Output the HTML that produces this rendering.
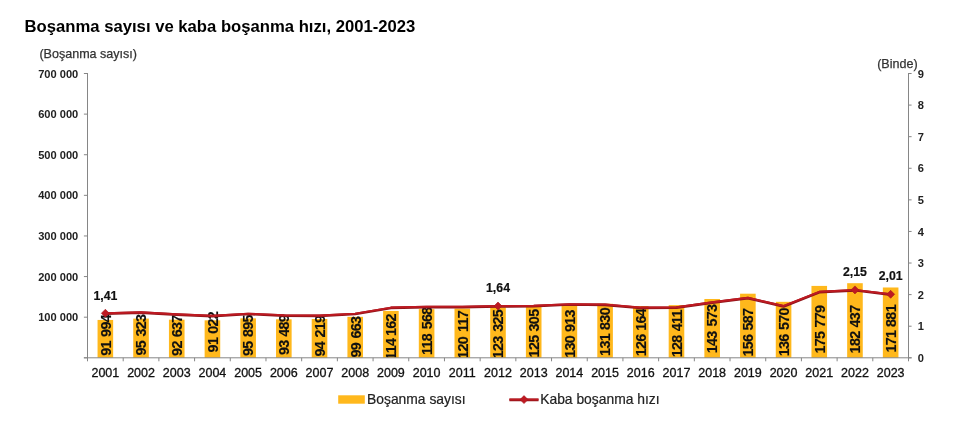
<!DOCTYPE html>
<html lang="tr"><head><meta charset="utf-8"><title>Boşanma sayısı ve kaba boşanma hızı, 2001-2023</title>
<style>html,body{margin:0;padding:0;background:#fff}body{width:957px;height:423px;overflow:hidden}svg{display:block}text{font-family:"Liberation Sans",Arial,sans-serif}</style></head><body>
<svg width="957" height="423" viewBox="0 0 957 423">
<rect width="957" height="423" fill="#fff"/>
<defs><clipPath id="plot"><rect x="87.5" y="0" width="821" height="357.3"/></clipPath></defs>
<text x="24.6" y="31.5" font-size="16.67" font-weight="bold" fill="#000">Boşanma sayısı ve kaba boşanma hızı, 2001-2023</text>
<text x="39.4" y="57.6" font-size="12.55" fill="#333" stroke="#333" stroke-width="0.25">(Boşanma sayısı)</text>
<text x="877.2" y="67.6" font-size="12.55" fill="#333" stroke="#333" stroke-width="0.25">(Binde)</text>
<g fill="#FFB81C">
<rect x="97.55" y="319.94" width="15.60" height="37.86"/>
<rect x="133.24" y="318.59" width="15.60" height="39.21"/>
<rect x="168.94" y="319.68" width="15.60" height="38.12"/>
<rect x="204.63" y="320.33" width="15.60" height="37.47"/>
<rect x="240.33" y="318.35" width="15.60" height="39.45"/>
<rect x="276.03" y="319.33" width="15.60" height="38.47"/>
<rect x="311.72" y="319.03" width="15.60" height="38.77"/>
<rect x="347.42" y="316.82" width="15.60" height="40.98"/>
<rect x="383.11" y="310.93" width="15.60" height="46.87"/>
<rect x="418.81" y="309.14" width="15.60" height="48.66"/>
<rect x="454.50" y="308.52" width="15.60" height="49.28"/>
<rect x="490.20" y="307.21" width="15.60" height="50.59"/>
<rect x="525.90" y="306.41" width="15.60" height="51.39"/>
<rect x="561.59" y="304.13" width="15.60" height="53.67"/>
<rect x="597.29" y="303.76" width="15.60" height="54.04"/>
<rect x="632.98" y="306.06" width="15.60" height="51.74"/>
<rect x="668.68" y="305.15" width="15.60" height="52.65"/>
<rect x="704.37" y="298.99" width="15.60" height="58.81"/>
<rect x="740.07" y="293.70" width="15.60" height="64.10"/>
<rect x="775.77" y="301.83" width="15.60" height="55.97"/>
<rect x="811.46" y="285.91" width="15.60" height="71.89"/>
<rect x="847.16" y="283.20" width="15.60" height="74.60"/>
<rect x="882.85" y="287.49" width="15.60" height="70.31"/>
</g>
<g font-size="14.3" font-weight="bold" fill="#111" stroke="#111" stroke-width="0.15" letter-spacing="-0.67" clip-path="url(#plot)">
<text transform="translate(110.65 355.80) rotate(-90) scale(1 1.08)" word-spacing="1.05">91 994</text>
<text transform="translate(146.34 355.60) rotate(-90) scale(1 1.08)" word-spacing="1.15">95 323</text>
<text transform="translate(182.04 355.90) rotate(-90) scale(1 1.08)" word-spacing="0.85">92 637</text>
<text transform="translate(217.73 352.40) rotate(-90) scale(1 1.08)" word-spacing="0.85">91 022</text>
<text transform="translate(253.43 356.00) rotate(-90) scale(1 1.08)" word-spacing="1.05">95 895</text>
<text transform="translate(289.13 355.10) rotate(-90) scale(1 1.08)" word-spacing="0.55">93 489</text>
<text transform="translate(324.82 356.60) rotate(-90) scale(1 1.08)" word-spacing="1.25">94 219</text>
<text transform="translate(360.52 357.50) rotate(-90) scale(1 1.08)" word-spacing="1.05">99 663</text>
<text transform="translate(396.21 359.70) rotate(-90) scale(1 1.08)" word-spacing="-0.65">114 162</text>
<text transform="translate(431.91 354.90) rotate(-90) scale(1 1.08)" word-spacing="1.25">118 568</text>
<text transform="translate(467.60 358.70) rotate(-90) scale(1 1.08)" word-spacing="1.55">120 117</text>
<text transform="translate(503.30 358.40) rotate(-90) scale(1 1.08)" word-spacing="1.45">123 325</text>
<text transform="translate(539.00 357.40) rotate(-90) scale(1 1.08)" word-spacing="0.85">125 305</text>
<text transform="translate(574.69 357.80) rotate(-90) scale(1 1.08)" word-spacing="0.65">130 913</text>
<text transform="translate(610.39 355.90) rotate(-90) scale(1 1.08)" word-spacing="0.85">131 830</text>
<text transform="translate(646.08 356.30) rotate(-90) scale(1 1.08)" word-spacing="0.35">126 164</text>
<text transform="translate(681.78 357.30) rotate(-90) scale(1 1.08)" word-spacing="0.85">128 411</text>
<text transform="translate(717.47 353.20) rotate(-90) scale(1 1.08)" word-spacing="1.45">143 573</text>
<text transform="translate(753.17 356.60) rotate(-90) scale(1 1.08)" word-spacing="0.85">156 587</text>
<text transform="translate(788.87 356.30) rotate(-90) scale(1 1.08)" word-spacing="1.05">136 570</text>
<text transform="translate(824.56 353.50) rotate(-90) scale(1 1.08)" word-spacing="0.85">175 779</text>
<text transform="translate(860.26 353.40) rotate(-90) scale(1 1.08)" word-spacing="0.85">182 437</text>
<text transform="translate(895.95 352.50) rotate(-90) scale(1 1.08)" word-spacing="0.45">171 881</text>
</g>
<g stroke="#868686" stroke-width="1" fill="none">
<path d="M87.5 73V358.3"/>
<path d="M908.5 73V358.3"/>
<path d="M83.9 357.8H911.6"/>
<path d="M83.9 73.50H87.5M83.9 114.11H87.5M83.9 154.73H87.5M83.9 195.34H87.5M83.9 235.96H87.5M83.9 276.57H87.5M83.9 317.19H87.5M83.9 357.80H87.5M908.5 73.50H911.6M908.5 105.09H911.6M908.5 136.68H911.6M908.5 168.27H911.6M908.5 199.86H911.6M908.5 231.44H911.6M908.5 263.03H911.6M908.5 294.62H911.6M908.5 326.21H911.6M908.5 357.80H911.6M87.50 357.8V361.3M123.20 357.8V361.3M158.89 357.8V361.3M194.59 357.8V361.3M230.28 357.8V361.3M265.98 357.8V361.3M301.67 357.8V361.3M337.37 357.8V361.3M373.07 357.8V361.3M408.76 357.8V361.3M444.46 357.8V361.3M480.15 357.8V361.3M515.85 357.8V361.3M551.54 357.8V361.3M587.24 357.8V361.3M622.93 357.8V361.3M658.63 357.8V361.3M694.33 357.8V361.3M730.02 357.8V361.3M765.72 357.8V361.3M801.41 357.8V361.3M837.11 357.8V361.3M872.80 357.8V361.3M908.50 357.8V361.3"/>
</g>
<g font-size="11.1" font-weight="bold" fill="#222" text-anchor="end">
<text x="78.3" y="77.65">700 000</text>
<text x="78.3" y="118.26">600 000</text>
<text x="78.3" y="158.88">500 000</text>
<text x="78.3" y="199.49">400 000</text>
<text x="78.3" y="240.11">300 000</text>
<text x="78.3" y="280.72">200 000</text>
<text x="78.3" y="321.34">100 000</text>
</g>
<g font-size="11.1" font-weight="bold" fill="#222">
<text x="917.8" y="77.65">9</text>
<text x="917.8" y="109.24">8</text>
<text x="917.8" y="140.83">7</text>
<text x="917.8" y="172.42">6</text>
<text x="917.8" y="204.01">5</text>
<text x="917.8" y="235.59">4</text>
<text x="917.8" y="267.18">3</text>
<text x="917.8" y="298.77">2</text>
<text x="917.8" y="330.36">1</text>
<text x="917.8" y="361.95">0</text>
</g>
<g font-size="12.5" fill="#111" stroke="#111" stroke-width="0.3" text-anchor="middle">
<text x="105.35" y="376.5">2001</text>
<text x="141.04" y="376.5">2002</text>
<text x="176.74" y="376.5">2003</text>
<text x="212.43" y="376.5">2004</text>
<text x="248.13" y="376.5">2005</text>
<text x="283.83" y="376.5">2006</text>
<text x="319.52" y="376.5">2007</text>
<text x="355.22" y="376.5">2008</text>
<text x="390.91" y="376.5">2009</text>
<text x="426.61" y="376.5">2010</text>
<text x="462.30" y="376.5">2011</text>
<text x="498.00" y="376.5">2012</text>
<text x="533.70" y="376.5">2013</text>
<text x="569.39" y="376.5">2014</text>
<text x="605.09" y="376.5">2015</text>
<text x="640.78" y="376.5">2016</text>
<text x="676.48" y="376.5">2017</text>
<text x="712.17" y="376.5">2018</text>
<text x="747.87" y="376.5">2019</text>
<text x="783.57" y="376.5">2020</text>
<text x="819.26" y="376.5">2021</text>
<text x="854.96" y="376.5">2022</text>
<text x="890.65" y="376.5">2023</text>
</g>
<polyline points="105.35,313.26 141.04,312.31 176.74,314.21 212.43,315.79 248.13,313.58 283.83,315.15 319.52,315.47 355.22,313.58 390.91,307.57 426.61,306.63 462.30,306.63 498.00,305.99 533.70,305.68 569.39,304.10 605.09,304.41 640.78,307.57 676.48,307.26 712.17,302.20 747.87,297.78 783.57,305.99 819.26,291.78 854.96,289.88 890.65,294.31" fill="none" stroke="#8E1519" stroke-width="2.7" stroke-linejoin="round" stroke-linecap="round" transform="translate(0 0.4)"/>
<polyline points="105.35,313.26 141.04,312.31 176.74,314.21 212.43,315.79 248.13,313.58 283.83,315.15 319.52,315.47 355.22,313.58 390.91,307.57 426.61,306.63 462.30,306.63 498.00,305.99 533.70,305.68 569.39,304.10 605.09,304.41 640.78,307.57 676.48,307.26 712.17,302.20 747.87,297.78 783.57,305.99 819.26,291.78 854.96,289.88 890.65,294.31" fill="none" stroke="#BE1A22" stroke-width="1.9" stroke-linejoin="round" stroke-linecap="round"/>
<path d="M105.35 309.26L109.35 313.26L105.35 317.26L101.35 313.26Z" fill="#BE1A22" stroke="#A5161C" stroke-width="0.6"/>
<path d="M498.00 301.99L502.00 305.99L498.00 309.99L494.00 305.99Z" fill="#BE1A22" stroke="#A5161C" stroke-width="0.6"/>
<path d="M854.96 285.88L858.96 289.88L854.96 293.88L850.96 289.88Z" fill="#BE1A22" stroke="#A5161C" stroke-width="0.6"/>
<path d="M890.65 290.31L894.65 294.31L890.65 298.31L886.65 294.31Z" fill="#BE1A22" stroke="#A5161C" stroke-width="0.6"/>
<g font-size="12.3" font-weight="bold" fill="#111" stroke="#111" stroke-width="0.2" text-anchor="middle">
<text x="105.35" y="299.86">1,41</text>
<text x="498.00" y="292.29">1,64</text>
<text x="854.96" y="275.78">2,15</text>
<text x="890.65" y="279.91">2,01</text>
</g>
<rect x="338.2" y="395.3" width="26.6" height="8.4" fill="#FFB81C"/>
<text x="367" y="404.1" font-size="13.87" fill="#222" stroke="#222" stroke-width="0.2">Boşanma sayısı</text>
<path d="M509.4 399.9H538.5" stroke="#8E1519" stroke-width="2.7" fill="none"/>
<path d="M509.4 399.5H538.5" stroke="#BE1A22" stroke-width="1.9" fill="none"/>
<path d="M524.00 395.60L528.00 399.60L524.00 403.60L520.00 399.60Z" fill="#BE1A22" stroke="#A5161C" stroke-width="0.6"/>
<text x="540.2" y="404.1" font-size="13.87" fill="#222" stroke="#222" stroke-width="0.2">Kaba boşanma hızı</text>
</svg></body></html>
